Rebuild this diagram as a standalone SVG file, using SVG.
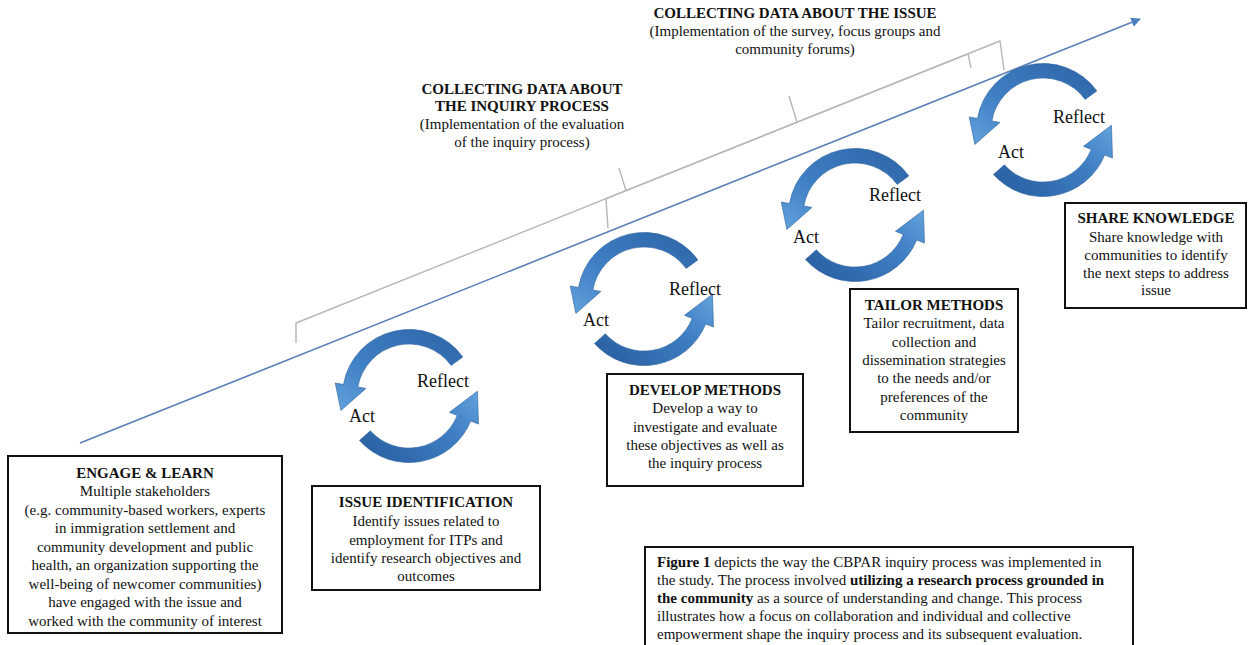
<svg xmlns="http://www.w3.org/2000/svg" xmlns:xlink="http://www.w3.org/1999/xlink" width="1248" height="645" viewBox="0 0 1248 645">
<style>
text{font-family:"Liberation Serif","Times New Roman",serif;fill:#111}
.t{font-size:15px;text-anchor:middle}
.b{font-weight:bold}
.cy{font-size:18px;text-anchor:middle}
.box{fill:#fff;stroke:#111;stroke-width:2}
.brace{fill:none;stroke:#b3b7bb;stroke-width:1.4;stroke-linejoin:round}
.cap{font-size:15px}
</style>
<defs>
<linearGradient id="gA" x1="1" y1="0" x2="0" y2="1">
<stop offset="0" stop-color="#2c64a6"/><stop offset="0.6" stop-color="#3f7fc4"/><stop offset="1" stop-color="#62a2dc"/>
</linearGradient>
<linearGradient id="gB" x1="0" y1="0.6" x2="1" y2="0">
<stop offset="0" stop-color="#2c64a6"/><stop offset="0.6" stop-color="#3f7fc4"/><stop offset="1" stop-color="#62a2dc"/>
</linearGradient>
<path id="arcA" d="M51.8,-37.6 A64,64 0 0 0 -63.0,-11.1 L-70.9,-12.5 L-65.5,13.9 L-41.4,-7.3 L-49.2,-8.7 A50,50 0 0 1 40.5,-29.4 Z" fill="url(#gA)" stroke="#2d63a0" stroke-width="0.6"/>
<path id="arcB" d="M-47.6,42.8 A64,64 0 0 0 59.3,24.0 L66.8,27.0 L65.8,-4.6 L38.9,15.7 L46.4,18.7 A50,50 0 0 1 -37.2,33.5 Z" fill="url(#gB)" stroke="#2d63a0" stroke-width="0.6"/>
<marker id="ah" viewBox="0 0 10 10" refX="9" refY="5" markerWidth="7" markerHeight="7" orient="auto" markerUnits="userSpaceOnUse">
<path d="M0,0 L10,5 L0,10 Z" fill="#4a7fc0"/>
</marker>
<marker id="ah2" viewBox="0 0 10 10" refX="9" refY="5" markerWidth="6" markerHeight="6" orient="auto">
<path d="M0,0 L10,5 L0,10 Z" fill="#4a7fc0"/>
</marker>
</defs>
<rect width="1248" height="645" fill="#fff"/>

<g id="connectors">
<path class="brace" d="M296,343 L296,323 L626,190.6 L619,168 M626,190.6 L968,53.8 L971,68"/>
<path class="brace" d="M608,228 L606,198.6 L797,122.2 L789,96 M797,122.2 L1000,41 L1004,70"/>
<line x1="80" y1="443" x2="1140" y2="19" stroke="#5b80b8" stroke-width="1.6" marker-end="url(#ah2)"/>
</g>

<g id="label-issue">
<text class="t b" x="795" y="18">COLLECTING DATA ABOUT THE ISSUE</text>
<text class="t" x="795" y="36">(Implementation of the survey, focus groups and</text>
<text class="t" x="795" y="54">community forums)</text>
</g>
<g id="label-inquiry">
<text class="t b" x="522" y="94">COLLECTING DATA ABOUT</text>
<text class="t b" x="522" y="111">THE INQUIRY PROCESS</text>
<text class="t" x="522" y="129">(Implementation of the evaluation</text>
<text class="t" x="522" y="147">of the inquiry process)</text>
</g>

<g id="cycle1">
<use xlink:href="#arcA" href="#arcA" transform="translate(409,396) scale(1.04)"/>
<use xlink:href="#arcB" href="#arcB" transform="translate(409,396) scale(1.04)"/>
<text class="cy" x="362" y="422">Act</text>
<text class="cy" x="443" y="387">Reflect</text>
</g>
<g id="cycle2">
<use xlink:href="#arcA" href="#arcA" transform="translate(644,299) scale(1.04)"/>
<use xlink:href="#arcB" href="#arcB" transform="translate(644,299) scale(1.04)"/>
<text class="cy" x="596" y="326">Act</text>
<text class="cy" x="695" y="295">Reflect</text>
</g>
<g id="cycle3">
<use xlink:href="#arcA" href="#arcA" transform="translate(855,215) scale(1.04)"/>
<use xlink:href="#arcB" href="#arcB" transform="translate(855,215) scale(1.04)"/>
<text class="cy" x="806" y="243">Act</text>
<text class="cy" x="895" y="201">Reflect</text>
</g>
<g id="cycle4">
<use xlink:href="#arcA" href="#arcA" transform="translate(1043,130) scale(1.04)"/>
<use xlink:href="#arcB" href="#arcB" transform="translate(1043,130) scale(1.04)"/>
<text class="cy" x="1011" y="158">Act</text>
<text class="cy" x="1079" y="123">Reflect</text>
</g>

<g id="engage-learn">
<rect class="box" x="8" y="456" width="274" height="177"/>
<text class="t b" x="145" y="478">ENGAGE &amp; LEARN</text>
<text class="t" x="145" y="496">Multiple stakeholders</text>
<text class="t" x="145" y="515">(e.g. community-based workers, experts</text>
<text class="t" x="145" y="533">in immigration settlement and</text>
<text class="t" x="145" y="552">community development and public</text>
<text class="t" x="145" y="570">health, an organization supporting the</text>
<text class="t" x="145" y="589">well-being of newcomer communities)</text>
<text class="t" x="145" y="607">have engaged with the issue and</text>
<text class="t" x="145" y="626">worked with the community of interest</text>
</g>

<g id="issue-identification">
<rect class="box" x="312" y="486" width="228" height="104"/>
<text class="t b" x="426" y="507">ISSUE IDENTIFICATION</text>
<text class="t" x="426" y="526">Identify issues related to</text>
<text class="t" x="426" y="545">employment for ITPs and</text>
<text class="t" x="426" y="563">identify research objectives and</text>
<text class="t" x="426" y="581">outcomes</text>
</g>

<g id="develop-methods">
<rect class="box" x="607" y="374" width="196" height="112"/>
<text class="t b" x="705" y="395">DEVELOP METHODS</text>
<text class="t" x="705" y="413">Develop a way to</text>
<text class="t" x="705" y="432">investigate and evaluate</text>
<text class="t" x="705" y="450">these objectives as well as</text>
<text class="t" x="705" y="468">the inquiry process</text>
</g>

<g id="tailor-methods">
<rect class="box" x="850" y="289" width="168" height="143"/>
<text class="t b" x="934" y="310">TAILOR METHODS</text>
<text class="t" x="934" y="328">Tailor recruitment, data</text>
<text class="t" x="934" y="347">collection and</text>
<text class="t" x="934" y="365">dissemination strategies</text>
<text class="t" x="934" y="383">to the needs and/or</text>
<text class="t" x="934" y="402">preferences of the</text>
<text class="t" x="934" y="420">community</text>
</g>

<g id="share-knowledge">
<rect class="box" x="1065" y="203" width="181" height="105"/>
<text class="t b" x="1156" y="223">SHARE KNOWLEDGE</text>
<text class="t" x="1156" y="242">Share knowledge with</text>
<text class="t" x="1156" y="260">communities to identify</text>
<text class="t" x="1156" y="278">the next steps to address</text>
<text class="t" x="1156" y="295">issue</text>
</g>

<g id="caption">
<rect class="box" x="645" y="547" width="488" height="110"/>
<text class="cap" x="657" y="567"><tspan class="b">Figure 1</tspan> depicts the way the CBPAR inquiry process was implemented in</text>
<text class="cap" x="657" y="585">the study. The process involved <tspan class="b">utilizing a research process grounded in</tspan></text>
<text class="cap" x="657" y="603"><tspan class="b">the community</tspan> as a source of understanding and change. This process</text>
<text class="cap" x="657" y="621">illustrates how a focus on collaboration and individual and collective</text>
<text class="cap" x="657" y="639">empowerment shape the inquiry process and its subsequent evaluation.</text>
</g>
</svg>
